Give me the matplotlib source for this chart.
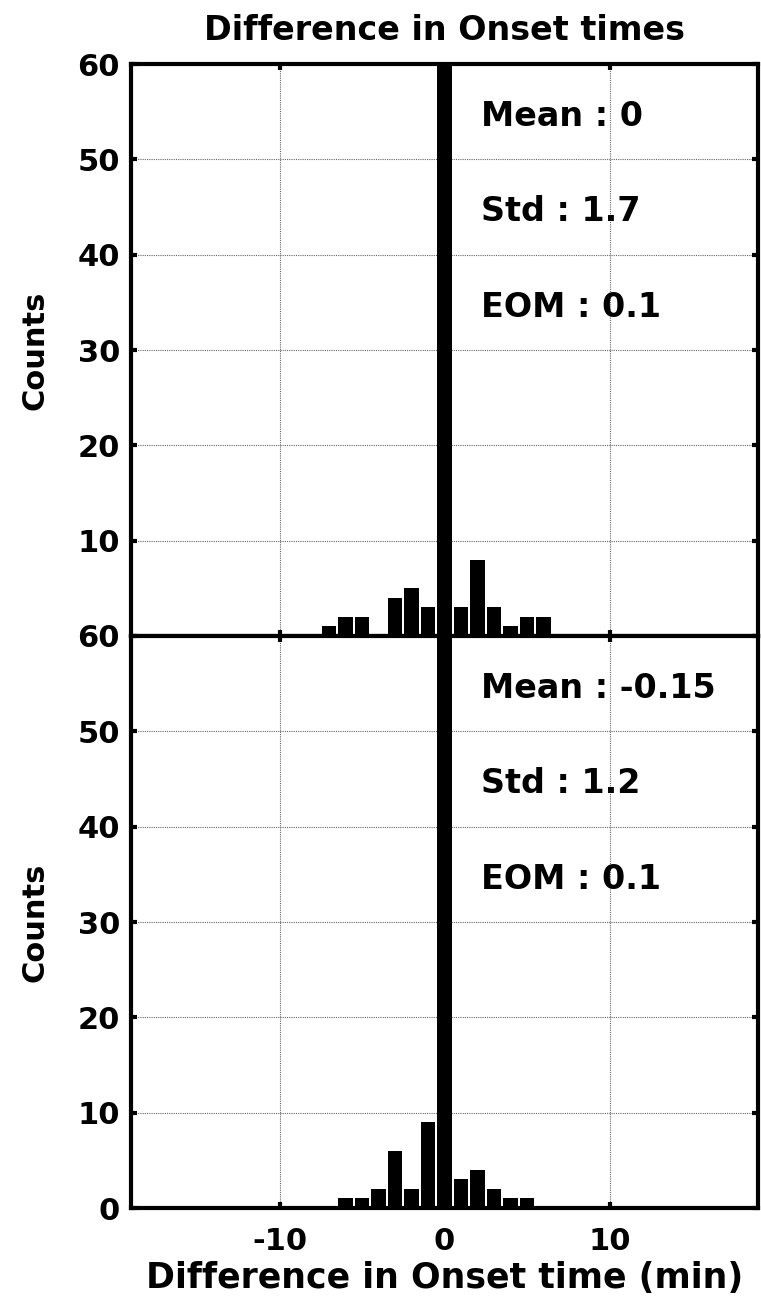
import matplotlib
matplotlib.use("Agg")
import matplotlib.pyplot as plt

# Histogram bins (minutes), one-minute wide, centred on integers
bin_centers = [-7, -6, -5, -4, -3, -2, -1, 0, 1, 2, 3, 4, 5, 6]
counts_top = [1, 2, 2, 0, 4, 5, 3, 113, 3, 8, 3, 1, 2, 2]
counts_bottom = [0, 1, 1, 2, 6, 2, 9, 136, 3, 4, 2, 1, 1, 0]

stats_top = ["Mean : 0", "Std : 1.7", "EOM : 0.1"]
stats_bottom = ["Mean : -0.15", "Std : 1.2", "EOM : 0.1"]

xticks = [-10, 0, 10]
yticks = [0, 10, 20, 30, 40, 50, 60]

plt.rcParams['font.family'] = ['DejaVu Sans']
plt.rcParams['font.weight'] = 'bold'
plt.rcParams['axes.unicode_minus'] = False

W, H = 761, 1297
fig = plt.figure(figsize=(W / 100, H / 100), dpi=100)

left = 131 / W
width = (758 - 131) / W
ax_h = 572 / H
ax_top = fig.add_axes([left, (H - 636) / H, width, ax_h])
ax_bot = fig.add_axes([left, (H - 1208) / H, width, ax_h])

for ax, counts, stats in [(ax_top, counts_top, stats_top),
                          (ax_bot, counts_bottom, stats_bottom)]:
    ax.bar(bin_centers, counts, width=0.85, color='black', edgecolor='none', zorder=3)
    ax.set_xlim(-19, 19)
    ax.set_ylim(0, 60)
    ax.set_xticks(xticks)
    ax.set_yticks(yticks)
    ax.grid(True, color='#666666', linestyle=(0, (1, 1)), linewidth=0.8, zorder=0)
    for sp in ax.spines.values():
        sp.set_linewidth(3)
        sp.set_zorder(4)
    ax.tick_params(direction='in', length=4, width=3, top=True, right=True,
                   labelsize=22, pad=8)
    ax.tick_params(axis='x', pad=14)
    for lbl in ax.get_yticklabels() + ax.get_xticklabels():
        lbl.set_fontweight('bold')
    ax.set_ylabel("Counts", fontsize=22, fontweight='bold', labelpad=20)
    for txt, y in zip(stats, [53.5, 43.5, 33.5]):
        ax.text(2.2, y, txt, fontsize=24, fontweight='bold', va='baseline', ha='left', zorder=5)

# the shared 60/0 boundary carries only the lower panel's "60"
ax_top.set_yticklabels([''] + [str(v) for v in yticks[1:]])
ax_top.tick_params(labelbottom=False)
ax_top.set_title("Difference in Onset times", fontsize=24, fontweight='bold', pad=17)
ax_bot.set_xlabel("Difference in Onset time (min)", fontsize=25, fontweight='bold', labelpad=3)

fig.savefig("out.png", dpi=100)
